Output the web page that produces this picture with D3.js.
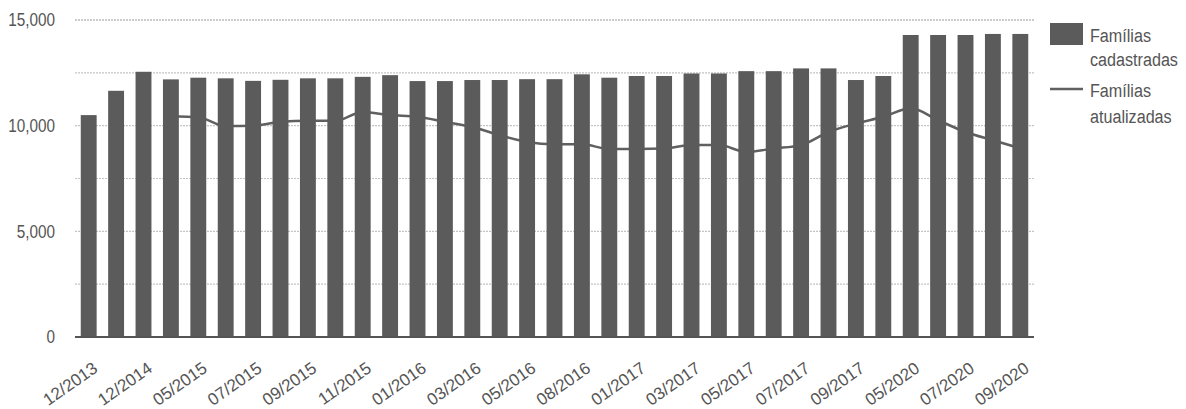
<!DOCTYPE html>
<html>
<head>
<meta charset="utf-8">
<script src="https://cdn.jsdelivr.net/npm/d3@7"></script>
<style>
  body { margin: 0; background: #fff; }
  text { font-family: "Liberation Sans", Arial, sans-serif; fill: #555; }
</style>
</head>
<body>
<div class="chart"></div>
<script>
// months (only every other one is labelled on the axis)
var months = ["12/2013", "06/2014", "12/2014", "03/2015", "05/2015", "06/2015", "07/2015", "08/2015",
  "09/2015", "10/2015", "11/2015", "12/2015", "01/2016", "02/2016", "03/2016", "04/2016", "05/2016",
  "06/2016", "08/2016", "12/2016", "01/2017", "02/2017", "03/2017", "04/2017", "05/2017", "06/2017",
  "07/2017", "08/2017", "09/2017", "04/2020", "05/2020", "06/2020", "07/2020", "08/2020", "09/2020"];

// Famílias cadastradas (bars)
var cadastradas = [10500, 11650, 12550, 12190, 12270, 12240, 12120, 12170, 12240, 12240, 12310, 12390,
  12110, 12110, 12160, 12160, 12200, 12200, 12430, 12270, 12350, 12350, 12470, 12470, 12580, 12580,
  12710, 12710, 12160, 12350, 14290, 14290, 14290, 14340, 14340];

// Famílias atualizadas (line), starts at the 4th month
var atualizadas = [null, null, null, 10450, 10400, 9980, 10000, 10180, 10230, 10230, 10650, 10500,
  10420, 10180, 9940, 9550, 9230, 9120, 9120, 8900, 8900, 8920, 9080, 9080, 8760, 8920,
  9080, 9700, 10100, 10420, 10820, 10260, 9700, 9310, 8930];

var yTicks = [0, 5000, 10000, 15000];
var gridTicks = [2500, 5000, 7500, 10000, 12500, 15000];

var margin = { top: 20, right: 152, bottom: 72, left: 75 },
    width = 1186 - margin.left - margin.right,
    height = 409 - margin.top - margin.bottom;

// narrow look of the original font
var squeeze = 0.85;

var svg = d3.select(".chart")
    .append("svg")
    .attr("width", 1186)
    .attr("height", 409)
    .append("g")
    .attr("transform", "translate(" + margin.left + "," + margin.top + ")");

var x = d3.scaleBand()
    .domain(months)
    .range([0, width])
    .paddingInner(0.42)
    .paddingOuter(0.21);

var y = d3.scaleLinear()
    .domain([0, 15000])
    .range([height, 0]);

// dotted gridlines
svg.selectAll(".grid")
    .data(gridTicks)
    .enter()
    .append("line")
    .attr("x1", 0)
    .attr("x2", width)
    .attr("y1", function (d) { return y(d); })
    .attr("y2", function (d) { return y(d); })
    .attr("stroke", function (d) { return d === 15000 ? "#999" : "#c4c4c4"; })
    .attr("stroke-width", 1.2)
    .attr("stroke-dasharray", "2,1");

// y axis labels
svg.append("g")
    .call(d3.axisLeft(y).tickValues(yTicks).tickSize(0).tickFormat(d3.format(",")))
    .call(function (g) { g.select(".domain").remove(); })
    .selectAll("text")
    .style("font-size", "18px")
    .attr("fill", "#555")
    .attr("x", -20 / squeeze)
    .attr("transform", "scale(" + squeeze + ",1)");

var color = "#5b5b5b";

// line goes behind the bars
var line = d3.line()
    .defined(function (d) { return d !== null; })
    .x(function (d, i) { return x(months[i]) + x.bandwidth() / 2; })
    .y(function (d) { return y(d); })
    .curve(d3.curveMonotoneX);

svg.append("path")
    .datum(atualizadas)
    .attr("fill", "none")
    .attr("stroke", "#606060")
    .attr("stroke-width", 2.5)
    .attr("d", line);

svg.selectAll("rect.bar")
    .data(cadastradas)
    .enter()
    .append("rect")
    .attr("class", "bar")
    .attr("x", function (d, i) { return x(months[i]); })
    .attr("y", function (d) { return y(d); })
    .attr("width", x.bandwidth())
    .attr("height", function (d) { return height - y(d); })
    .style("fill", color);

// baseline
svg.append("line")
    .attr("x1", 0)
    .attr("x2", width)
    .attr("y1", height)
    .attr("y2", height)
    .attr("stroke", "#555")
    .attr("stroke-width", 2);

// rotated x labels, every other month
var xAxis = svg.append("g")
    .attr("transform", "translate(0," + height + ")")
    .call(d3.axisBottom(x)
        .tickValues(months.filter(function (d, i) { return i % 2 === 0; }))
        .tickSize(0)
        .tickPadding(0));
xAxis.select(".domain").remove();
xAxis.selectAll("text")
    .style("font-size", "17px")
    .attr("fill", "#555")
    .attr("text-anchor", "end")
    .attr("x", 0)
    .attr("y", 0)
    .attr("dy", "0.71em")
    .attr("transform", "translate(3,24) rotate(-35)");

// legend
var legend = svg.append("g")
    .attr("transform", "translate(" + (width + 16) + ",0)");

legend.append("rect")
    .attr("x", 0)
    .attr("y", 3)
    .attr("width", 33)
    .attr("height", 22)
    .style("fill", color);

legend.append("line")
    .attr("x1", 0)
    .attr("x2", 33)
    .attr("y1", 69)
    .attr("y2", 69)
    .attr("stroke", "#606060")
    .attr("stroke-width", 2.5);

var legendText = [["Famílias", 22], ["cadastradas", 46], ["Famílias", 77], ["atualizadas", 103]];
legend.selectAll("text.leg")
    .data(legendText)
    .enter()
    .append("text")
    .attr("class", "leg")
    .attr("transform", function (d) { return "translate(40," + d[1] + ") scale(" + squeeze + ",1)"; })
    .style("font-size", "19px")
    .text(function (d) { return d[0]; });
</script>
</body>
</html>
